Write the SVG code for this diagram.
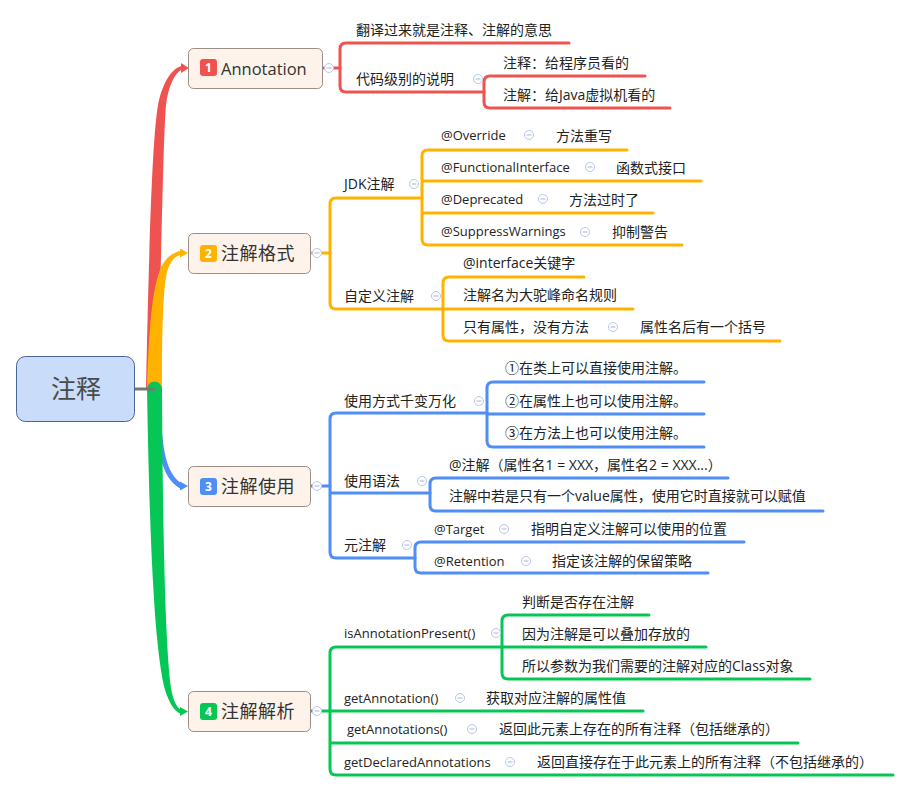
<svg xmlns="http://www.w3.org/2000/svg" width="911" height="792" viewBox="0 0 911 792">
<defs>
<style>
.t{font-family:'Open Sans','Noto Sans CJK SC',sans-serif;font-size:14px;fill:#222}
.e{font-size:13px}
.n{font-family:'Open Sans','Noto Sans CJK SC',sans-serif;font-size:18px;fill:#333;letter-spacing:0.5px}
.box{fill:#fdf3ea;stroke:#9b8e86;stroke-width:1}
.bd{font-family:'Open Sans','Liberation Sans',sans-serif;font-size:12px;font-weight:bold;fill:#fff;text-anchor:middle}
.ln{fill:none;stroke-width:3;stroke-linecap:round;stroke-linejoin:round}
.r{stroke:#ef5350}.o{stroke:#ffb300}.b{stroke:#4f8ef7}.g{stroke:#06c755}
.cc{fill:#fff;stroke:#b9c6ea;stroke-width:1}
.cm{stroke:#a6b5dc;stroke-width:1}
</style>
<g id="col"><circle class="cc" cx="0" cy="0" r="4.5"/><line class="cm" x1="-2.5" y1="0" x2="2.5" y2="0"/></g>
</defs>

<g id="connectors">
  <!-- trunk -->
  <path d="M146,389 C149,250 152,140 158,105 C162,85 170,70 181,66 L181,70 C174,74 168,88 166,105 C163,140 162,250 157,389 Z" fill="#ef5350"/>
  <polygon points="181,63 189,68 181,73" fill="#ef5350"/>
  <path d="M147,389 C149,330 152,290 160,270 C165,258 172,253 180,251 L180,255 C174,257 170,262 167,272 C163,290 162,330 162,389 Z" fill="#ffb300"/>
  <polygon points="180,248.5 188,253 180,257.5" fill="#ffb300"/>
  <path d="M157,389 C159,450 163,476 181,486" fill="none" stroke="#4f8ef7" stroke-width="5"/>
  <polygon points="180,481.5 188,486 180,490.5" fill="#4f8ef7"/>
  <path d="M147,389 C150,560 155,650 165,690 C170,705 175,712 181,713.5 L181,709.5 C177,708 173,700 171,688 C166,650 163,560 162,389 A7.5,7.5 0 0 0 147,389 Z" fill="#06c755"/>
  <polygon points="180,707 188,711.5 180,716" fill="#06c755"/>
  <line x1="135" y1="389" x2="155" y2="389" stroke="#777" stroke-width="3"/>

  <!-- red -->
  <path class="ln r" d="M322,68 L340,68"/>
  <path class="ln r" d="M569,43 L346,43 Q340,43 340,49 L340,86 Q340,92 346,92 L484,92"/>
  <path class="ln r" d="M645,76 L490,76 Q484,76 484,82 L484,102 Q484,108 490,108 L670,108"/>

  <!-- orange -->
  <path class="ln o" d="M310,253 L330,253"/>
  <path class="ln o" d="M422,198 L336,198 Q330,198 330,204 L330,303 Q330,309 336,309 L443,309"/>
  <path class="ln o" d="M627,150 L428,150 Q422,150 422,156 L422,239 Q422,245 428,245 L682,245 M422,181 L701,181 M422,213 L653,213"/>
  <path class="ln o" d="M584,277 L449,277 Q443,277 443,283 L443,335 Q443,341 449,341 L780,341 M443,309 L633,309"/>

  <!-- blue -->
  <path class="ln b" d="M310,486 L330,486"/>
  <path class="ln b" d="M487,413 L336,413 Q330,413 330,419 L330,552 Q330,558 336,558 L415,558 M330,493 L430,493"/>
  <path class="ln b" d="M704,382 L493,382 Q487,382 487,388 L487,441 Q487,447 493,447 L704,447 M487,414 L704,414"/>
  <path class="ln b" d="M728,478 L436,478 Q430,478 430,484 L430,505 Q430,511 436,511 L823,511"/>
  <path class="ln b" d="M744,542 L421,542 Q415,542 415,548 L415,567 Q415,573 421,573 L708,573"/>

  <!-- green -->
  <path class="ln g" d="M502,647 L336,647 Q330,647 330,653 L330,769 Q330,775 336,775 L893,775 M310,711 L643,711 M330,743 L798,743"/>
  <path class="ln g" d="M649,615 L508,615 Q502,615 502,621 L502,673 Q502,679 508,679 L810,679 M502,647 L706,647"/>
</g>

<g id="root">
  <rect x="16.5" y="356.5" width="118" height="65" rx="9" fill="#c9dcfa" stroke="#4a6496" stroke-width="1"/>
  <text x="76" y="398" font-family="'Noto Sans CJK SC',sans-serif" font-size="25" fill="#4a4a4a" text-anchor="middle">注释</text>
</g>

<g id="n1">
  <rect class="box" x="188.5" y="48.5" width="134" height="40" rx="5"/>
  <rect x="200" y="59" width="17" height="17" rx="3" fill="#ef5350"/>
  <text class="bd" x="208.5" y="72">1</text>
  <text class="n" x="221" y="75" style="font-size:16.5px;letter-spacing:0">Annotation</text>
  <use href="#col" x="329" y="68"/>
</g>
<g id="n1a"><text class="t" x="356" y="35">翻译过来就是注释、注解的意思</text></g>
<g id="n1b"><text class="t" x="356" y="84">代码级别的说明</text><use href="#col" x="478" y="79"/></g>
<g id="n1b1"><text class="t" x="503" y="68">注释：给程序员看的</text></g>
<g id="n1b2"><text class="t" x="503" y="100">注解：给Java虚拟机看的</text></g>

<g id="n2">
  <rect class="box" x="188.5" y="233.5" width="122" height="40" rx="5"/>
  <rect x="200" y="245" width="17" height="17" rx="3" fill="#ffb300"/>
  <text class="bd" x="208.5" y="258">2</text>
  <text class="n" x="221" y="260">注解格式</text>
  <use href="#col" x="317" y="253"/>
</g>
<g id="n2a"><text class="t" x="344" y="189">JDK注解</text><use href="#col" x="414" y="184"/></g>
<g id="n2a1"><text class="t e" x="441" y="140">@Override</text><use href="#col" x="529" y="135"/><text class="t" x="556" y="141">方法重写</text></g>
<g id="n2a2"><text class="t e" x="441" y="172">@FunctionalInterface</text><use href="#col" x="590" y="167"/><text class="t" x="616" y="173">函数式接口</text></g>
<g id="n2a3"><text class="t e" x="441" y="204">@Deprecated</text><use href="#col" x="543" y="199"/><text class="t" x="569" y="205">方法过时了</text></g>
<g id="n2a4"><text class="t e" x="441" y="236">@SuppressWarnings</text><use href="#col" x="585" y="232"/><text class="t" x="612" y="237">抑制警告</text></g>
<g id="n2b"><text class="t" x="344" y="301">自定义注解</text><use href="#col" x="436" y="296"/></g>
<g id="n2b1"><text class="t" x="463" y="268">@interface关键字</text></g>
<g id="n2b2"><text class="t" x="463" y="300">注解名为大驼峰命名规则</text></g>
<g id="n2b3"><text class="t" x="463" y="332">只有属性，没有方法</text><use href="#col" x="613" y="327"/><text class="t" x="640" y="332">属性名后有一个括号</text></g>

<g id="n3">
  <rect class="box" x="188.5" y="466.5" width="122" height="40" rx="5"/>
  <rect x="200" y="478" width="17" height="17" rx="3" fill="#4f8ef7"/>
  <text class="bd" x="208.5" y="491">3</text>
  <text class="n" x="221" y="493">注解使用</text>
  <use href="#col" x="317" y="486"/>
</g>
<g id="n3a"><text class="t" x="344" y="406">使用方式千变万化</text><use href="#col" x="479" y="401"/></g>
<g id="n3a1"><text class="t" x="505" y="373">①在类上可以直接使用注解。</text></g>
<g id="n3a2"><text class="t" x="505" y="406">②在属性上也可以使用注解。</text></g>
<g id="n3a3"><text class="t" x="505" y="438">③在方法上也可以使用注解。</text></g>
<g id="n3b"><text class="t" x="344" y="486">使用语法</text><use href="#col" x="422" y="481"/></g>
<g id="n3b1"><text class="t" x="449" y="470">@注解（属性名1 = XXX，属性名2 = XXX...）</text></g>
<g id="n3b2"><text class="t" x="449" y="501">注解中若是只有一个value属性，使用它时直接就可以赋值</text></g>
<g id="n3c"><text class="t" x="344" y="550">元注解</text><use href="#col" x="407" y="545"/></g>
<g id="n3c1"><text class="t e" x="434" y="534">@Target</text><use href="#col" x="504" y="529"/><text class="t" x="531" y="534">指明自定义注解可以使用的位置</text></g>
<g id="n3c2"><text class="t e" x="434" y="566">@Retention</text><use href="#col" x="526" y="561"/><text class="t" x="552" y="566">指定该注解的保留策略</text></g>

<g id="n4">
  <rect class="box" x="188.5" y="691.5" width="122" height="40" rx="5"/>
  <rect x="200" y="703" width="17" height="17" rx="3" fill="#06c755"/>
  <text class="bd" x="208.5" y="716">4</text>
  <text class="n" x="221" y="718">注解解析</text>
  <use href="#col" x="317" y="711"/>
</g>
<g id="n4a"><text class="t e" x="344" y="638">isAnnotationPresent()</text><use href="#col" x="496" y="633"/></g>
<g id="n4a1"><text class="t" x="522" y="607">判断是否存在注解</text></g>
<g id="n4a2"><text class="t" x="522" y="639">因为注解是可以叠加存放的</text></g>
<g id="n4a3"><text class="t" x="522" y="671">所以参数为我们需要的注解对应的Class对象</text></g>
<g id="n4b"><text class="t e" x="344" y="703">getAnnotation()</text><use href="#col" x="460" y="698"/><text class="t" x="486" y="703">获取对应注解的属性值</text></g>
<g id="n4c"><text class="t e" x="347" y="734">getAnnotations()</text><use href="#col" x="472" y="729"/><text class="t" x="499" y="734">返回此元素上存在的所有注释（包括继承的）</text></g>
<g id="n4d"><text class="t e" x="344" y="767">getDeclaredAnnotations</text><use href="#col" x="510" y="762"/><text class="t" x="537" y="767">返回直接存在于此元素上的所有注释（不包括继承的）</text></g>
</svg>
